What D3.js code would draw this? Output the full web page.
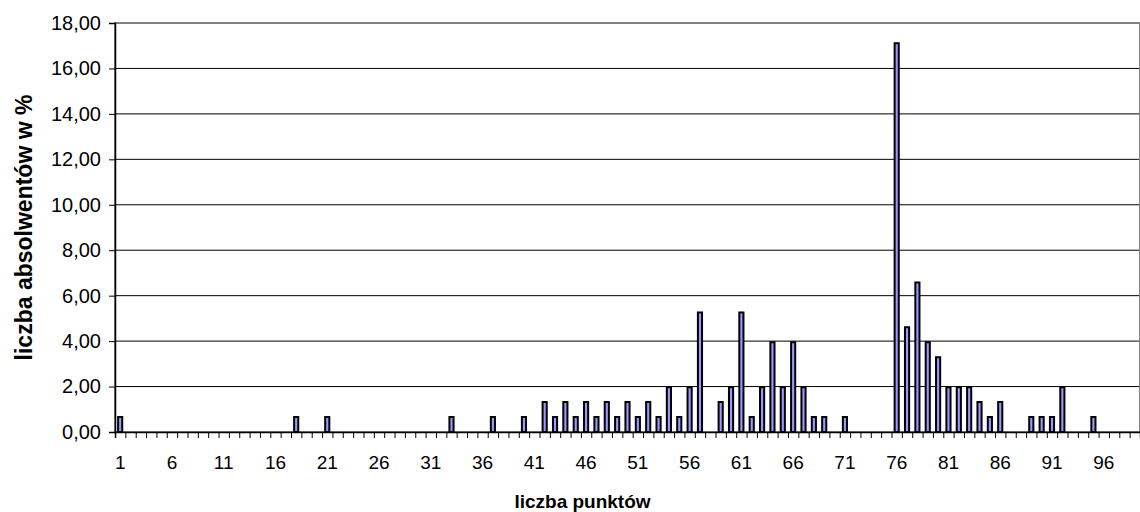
<!DOCTYPE html>
<html>
<head>
<meta charset="utf-8">
<script src="https://cdn.jsdelivr.net/npm/d3@7"></script>
<style>
  body { margin: 0; background: #fff; }
  svg { display: block; }
  text { font-family: "Liberation Sans", Arial, sans-serif; fill: #000; }
  .axis-title { font-weight: bold; font-size: 19px; }
</style>
</head>
<body>
<svg id="chart"></svg>
<script>
// punkty (kategorie) 1..99
const categories = d3.range(1, 100);

// liczba absolwentów w % dla kolejnych punktów (1..99)
const values = [
  0.66, 0, 0, 0, 0, 0, 0, 0, 0, 0,            // 1-10
  0, 0, 0, 0, 0, 0, 0, 0.66, 0, 0,            // 11-20
  0.66, 0, 0, 0, 0, 0, 0, 0, 0, 0,            // 21-30
  0, 0, 0.66, 0, 0, 0, 0.66, 0, 0, 0.66,      // 31-40
  0, 1.32, 0.66, 1.32, 0.66, 1.32, 0.66, 1.32, 0.66, 1.32,   // 41-50
  0.66, 1.32, 0.66, 1.97, 0.66, 1.97, 5.26, 0, 1.32, 1.97,   // 51-60
  5.26, 0.66, 1.97, 3.95, 1.97, 3.95, 1.97, 0.66, 0.66, 0,   // 61-70
  0.66, 0, 0, 0, 0, 17.11, 4.61, 6.58, 3.95, 3.29,           // 71-80
  1.97, 1.97, 1.97, 1.32, 0.66, 1.32, 0, 0, 0.66, 0.66,      // 81-90
  0.66, 1.97, 0, 0, 0.66, 0, 0, 0, 0                         // 91-99
];

// etykiety osi
const xTickLabels = [1, 6, 11, 16, 21, 26, 31, 36, 41, 46, 51, 56, 61, 66, 71, 76, 81, 86, 91, 96];
const yTicks = [0, 2, 4, 6, 8, 10, 12, 14, 16, 18];

const xTitle = "liczba punktów";
const yTitle = "liczba absolwentów w %";

const W = 1140, H = 512;
const m = {left: 115, top: 23, right: 1140, bottom: 432};

const svg = d3.select("#chart")
    .attr("width", W)
    .attr("height", H);

const x = d3.scaleBand()
    .domain(categories)
    .range([m.left, m.right]);

// granice kategorii (do kresek osi X)
const xEdge = d3.scaleLinear()
    .domain([0, categories.length])
    .range([m.left, m.right]);

const y = d3.scaleLinear()
    .domain([0, 18])
    .range([m.bottom, m.top]);

// linie siatki
svg.append("g")
    .selectAll("line")
    .data(yTicks.filter(d => d > 0 && d < 18))
    .join("line")
    .attr("x1", m.left)
    .attr("x2", m.right)
    .attr("y1", d => y(d))
    .attr("y2", d => y(d))
    .attr("stroke", "#000")
    .attr("stroke-width", 1);

// ramka obszaru wykresu
svg.append("rect")
    .attr("x", m.left)
    .attr("y", y(18))
    .attr("width", m.right - m.left)
    .attr("height", m.bottom - y(18))
    .attr("fill", "none")
    .attr("stroke", "#808080")
    .attr("stroke-width", 2);

// słupki
const barW = x.bandwidth() / 2.5;
svg.append("g")
    .selectAll("rect")
    .data(categories.map((c, i) => ({c: c, v: values[i]})).filter(d => d.v > 0))
    .join("rect")
    .attr("x", d => x(d.c) + (x.bandwidth() - barW) / 2)
    .attr("y", d => y(d.v))
    .attr("width", barW)
    .attr("height", d => y(0) - y(d.v))
    .attr("fill", "#9999ff")
    .attr("stroke", "#000")
    .attr("stroke-width", 2);

// oś Y
const yAxis = svg.append("g")
    .attr("transform", `translate(${m.left},0)`)
    .call(d3.axisLeft(y)
        .tickValues(yTicks)
        .tickSize(6)
        .tickPadding(8)
        .tickFormat(d => d3.format(".2f")(d).replace(".", ",")));
yAxis.select(".domain").attr("stroke", "#000").attr("stroke-width", 1.5);
yAxis.selectAll(".tick line").attr("stroke", "#000");
yAxis.selectAll("text")
    .style("font-size", "20px")
    .style("font-family", "Liberation Sans, Arial, sans-serif");

// oś X: kreski na granicach kategorii
const xTicksAxis = svg.append("g")
    .attr("transform", `translate(0,${m.bottom})`)
    .call(d3.axisBottom(xEdge)
        .tickValues(d3.range(0, categories.length + 1))
        .tickSize(6)
        .tickFormat(""));
xTicksAxis.select(".domain").attr("stroke", "#000").attr("stroke-width", 1.5);
xTicksAxis.selectAll(".tick line").attr("stroke", "#000");

// oś X: etykiety co 5 punktów
const xLabels = svg.append("g")
    .attr("transform", `translate(0,${m.bottom})`)
    .call(d3.axisBottom(x)
        .tickValues(xTickLabels)
        .tickSize(0)
        .tickPadding(24));
xLabels.select(".domain").remove();
xLabels.selectAll("text")
    .style("font-size", "19px")
    .style("font-family", "Liberation Sans, Arial, sans-serif");

// tytuły osi
svg.append("text")
    .attr("class", "axis-title")
    .attr("x", (m.left + m.right) / 2 - 45)
    .attr("y", 508)
    .attr("text-anchor", "middle")
    .text(xTitle);

svg.append("text")
    .attr("class", "axis-title")
    .style("font-size", "23px")
    .attr("transform", `translate(32,${(m.top + m.bottom) / 2}) rotate(-90)`)
    .attr("text-anchor", "middle")
    .text(yTitle);
</script>
</body>
</html>
